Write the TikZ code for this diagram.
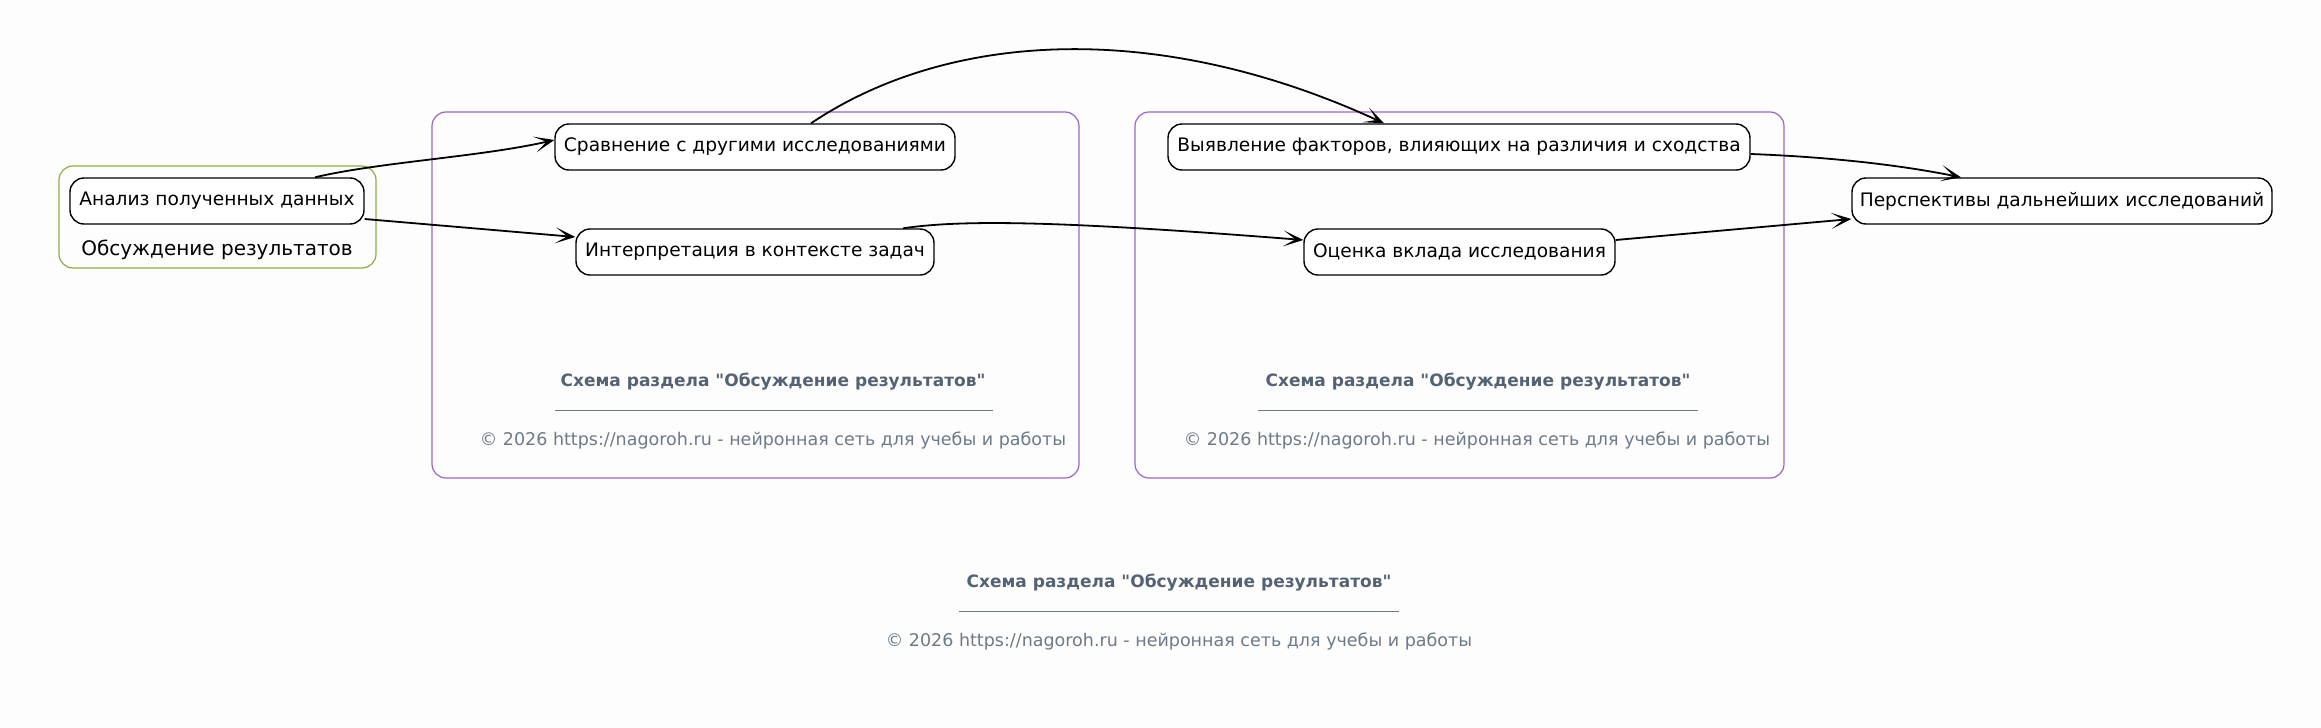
\documentclass[tikz,border=0pt]{standalone}
\usepackage{fontspec}
\setmainfont{DejaVu Sans}[Ligatures=TeXOff]
\usetikzlibrary{arrows.meta}
\definecolor{bgc}{RGB}{253,253,253}
\definecolor{purp}{RGB}{153,102,204}
\definecolor{grn}{RGB}{138,176,64}
\definecolor{capc}{RGB}{84,98,115}
\definecolor{copc}{RGB}{108,122,137}
\definecolor{rulec}{RGB}{110,120,135}
\tikzset{
  box/.style={draw=black, line width=1.4pt, rounded corners=14pt, fill=white, inner sep=0pt, font=\fontsize{18.6}{22}\selectfont},
  cluster/.style={line width=1.2pt, rounded corners=14pt},
  edge/.style={line width=1.8pt, -{Stealth[length=20pt,width=16pt,inset=12pt]}},
  captxt/.style={text=capc, font=\fontsize{17}{20}\selectfont\bfseries},
  coptxt/.style={text=copc, font=\fontsize{17.5}{20}\selectfont},
  caprule/.style={draw=rulec, line width=1pt},
  clabel/.style={font=\fontsize{20}{24}\selectfont},
}
\begin{document}
\begin{tikzpicture}[x=1pt,y=-1pt]
\path[fill=bgc] (0,0) rectangle (2321,728);
\useasboundingbox (0,0) rectangle (2321,728);
% clusters
\draw[cluster, draw=grn] (59,166) rectangle (376,268);
\draw[cluster, draw=purp] (432,112) rectangle (1079,478);
\draw[cluster, draw=purp] (1135,112) rectangle (1784,478);
\node[clabel] (lbl) at (217,250) {Обсуждение результатов};
% nodes
\node[box, minimum width=294pt, minimum height=46pt] (A) at (217,201) {Анализ полученных данных};
\node[box, minimum width=400pt, minimum height=46pt] (B) at (755,147) {Сравнение с другими исследованиями};
\node[box, minimum width=358pt, minimum height=46pt] (C) at (755,252) {Интерпретация в контексте задач};
\node[box, minimum width=582pt, minimum height=46pt] (D) at (1459,147) {Выявление факторов, влияющих на различия и сходства};
\node[box, minimum width=311pt, minimum height=46pt] (E) at (1459.5,252) {Оценка вклада исследования};
\node[box, minimum width=420pt, minimum height=46pt] (F) at (2062,201) {Перспективы дальнейших исследований};
% captions cluster 1
\node[captxt] (cap1) at (773,382) {Схема раздела "Обсуждение результатов"};
\coordinate (r1a) at (555,410); \coordinate (r1b) at (993,410);
\draw[caprule] (r1a) -- (r1b);
\node[coptxt] (cop1) at (773,441) {© 2026 https://nagoroh.ru - нейронная сеть для учебы и работы};
% captions cluster 2
\node[captxt] (cap2) at (1478,382) {Схема раздела "Обсуждение результатов"};
\coordinate (r2a) at (1258,410); \coordinate (r2b) at (1698,410);
\draw[caprule] (r2a) -- (r2b);
\node[coptxt] (cop2) at (1477,441) {© 2026 https://nagoroh.ru - нейронная сеть для учебы и работы};
% bottom caption
\node[captxt] (cap3) at (1179,583) {Схема раздела "Обсуждение результатов"};
\coordinate (r3a) at (959,611); \coordinate (r3b) at (1399,611);
\draw[caprule] (r3a) -- (r3b);
\node[coptxt] (cop3) at (1179,642) {© 2026 https://nagoroh.ru - нейронная сеть для учебы и работы};
% edges
\draw[edge] ([xshift=98pt]A.north) .. controls (380,162) and (480,157) .. ([yshift=7pt]B.west);
\draw[edge] ([yshift=-18pt]A.east) -- ([yshift=15pt]C.west);
\draw[edge] ([xshift=56pt]B.north) .. controls (950,30) and (1160,20) .. ([xshift=-75pt]D.north);
\draw[edge] ([xshift=148pt]C.north) .. controls (960,220) and (1050,220) .. ([yshift=12pt]E.west);
\draw[edge] ([yshift=-7pt]D.east) .. controls (1830,157) and (1900,165) .. ([xshift=-101pt]F.north);
\draw[edge] ([yshift=12pt]E.east) -- ([yshift=-18pt]F.west);
\end{tikzpicture}
\end{document}
